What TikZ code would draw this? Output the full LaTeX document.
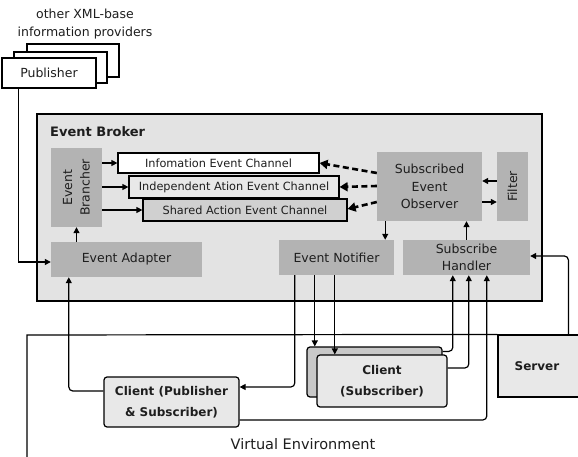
\documentclass[tikz,border=0pt]{standalone}
\usepackage{fontspec}
\setmainfont{DejaVu Sans}
\usetikzlibrary{arrows.meta}
\definecolor{brokerfill}{HTML}{E3E3E3}
\definecolor{boxgray}{HTML}{B3B3B3}
\definecolor{lightfill}{HTML}{E8E8E8}
\definecolor{midfill}{HTML}{D0D0D0}
\definecolor{backfill}{HTML}{C8C8C8}
\definecolor{txt}{HTML}{1E1E1E}
\tikzset{
  base/.style={inner sep=0pt, text=txt},
  txtn/.style={font=\fontsize{12.5}{17.5}\selectfont},
  gbox/.style={base, txtn, fill=boxgray, align=center},
  outl/.style={base, draw=black, line width=1.2pt},
  pubbox/.style={outl, fill=white, txtn},
  chan/.style={outl, font=\fontsize{11.3}{14}\selectfont},
  client/.style={outl, rounded corners=3pt, align=center, font=\bfseries\fontsize{12}{21}\selectfont},
  arr/.style={line width=1.2pt, -{Triangle[length=6pt,width=6pt]}},
  conn/.style={line width=1.2pt},
  darr/.style={line width=2.6pt, dash pattern=on 6pt off 3.5pt, -{Triangle[length=8pt,width=9pt]}},
}
\begin{document}
\begin{tikzpicture}[x=1pt,y=-1pt]
\useasboundingbox (0,0) rectangle (578,457);
% top text
\node[base, txtn, align=center] (prov) at (85,24) {other XML-base\\information providers};
% publishers
\node[pubbox, minimum width=92pt, minimum height=33pt] (pub3) at (73,60.5) {};
\node[pubbox, minimum width=93pt, minimum height=31pt] (pub2) at (60.5,67.5) {};
\node[pubbox, minimum width=94pt, minimum height=30pt] (pub1) at (49,73) {Publisher};
% broker
\node[outl, fill=brokerfill, minimum width=505pt, minimum height=187pt] (broker) at (289.5,207.5) {};
\node[base, anchor=west, font=\bfseries\fontsize{13}{15}\selectfont] (brokertitle) at (50,132) {Event Broker};
\node[gbox, minimum width=51pt, minimum height=79pt,
  label={[base, txtn, rotate=90, align=center]center:Event\\Brancher}] (brancher) at (76.5,187.5) {};
\node[chan, fill=white, minimum width=201pt, minimum height=20pt] (ch1) at (218.5,163) {Infomation Event Channel};
\node[chan, fill=lightfill, minimum width=210pt, minimum height=22pt] (ch2) at (234,187) {Independent Ation Event Channel};
\node[chan, fill=midfill, minimum width=204pt, minimum height=22pt] (ch3) at (245,210) {Shared Action Event Channel};
\node[gbox, minimum width=151pt, minimum height=35pt] (adapter) at (126.5,259.5) {Event Adapter};
\node[gbox, minimum width=105pt, minimum height=69pt] (observer) at (429.5,186.5) {Subscribed\\Event\\Observer};
\node[gbox, minimum width=31pt, minimum height=69pt,
  label={[base, txtn, rotate=90]center:Filter}] (filter) at (512.5,186.5) {};
\node[gbox, minimum width=115pt, minimum height=35pt] (notifier) at (336.5,257.5) {Event Notifier};
\node[gbox, minimum width=127pt, minimum height=35pt] (handler) at (466.5,257.5) {Subscribe\\Handler};
% virtual environment
\begin{scope}
\clip (0,0) rectangle (578,457);
\node[outl, fill=lightfill, minimum width=140pt, minimum height=62pt] (server) at (568,366) {};
\draw[conn] (27,460) -- (27,335) -- (server.north west);
\end{scope}
\node[base, font=\bfseries\fontsize{12}{14}\selectfont] (servertext) at (537,366) {Server};
\node[base, font=\fontsize{14.5}{16}\selectfont] (venv) at (303,444) {Virtual Environment};
% clients
\node[client, fill=lightfill, minimum width=135pt, minimum height=50pt] (clientps) at (171.5,402) {Client (Publisher\\\& Subscriber)};
\node[client, fill=backfill, minimum width=135pt, minimum height=50pt] (cback) at (374.5,372) {};
\node[client, fill=lightfill, minimum width=130pt, minimum height=52pt] (cfront) at (382,381) {Client\\(Subscriber)};
% connectors
\draw[arr] ([xshift=17pt]pub1.south west) |- ([yshift=-2.5pt]adapter.west);
\draw[arr] (brancher.south |- adapter.north) -- (brancher.south);
\draw[arr] (brancher.east |- ch1.west) -- (ch1.west);
\draw[arr] (brancher.east |- ch2.west) -- (ch2.west);
\draw[arr] (brancher.east |- ch3.west) -- (ch3.west);
\draw[darr] ([yshift=13.5pt]observer.west) -- (ch1.east);
\draw[darr] ([yshift=0.5pt]observer.west) -- (ch2.east);
\draw[darr] ([yshift=-15.5pt]observer.west) -- ([yshift=1pt]ch3.east);
\draw[arr] ([yshift=5.5pt]filter.west) -- ([yshift=5.5pt]observer.east);
\draw[arr] ([yshift=-15.5pt]observer.east) -- ([yshift=-15.5pt]filter.west);
\draw[arr] ([xshift=-9pt]notifier.north east |- observer.south) -- ([xshift=-9pt]notifier.north east);
\draw[arr] (handler.north) -- (handler.north |- observer.south);
\draw[arr, rounded corners=4pt] ([xshift=16pt]notifier.south west) |- ([yshift=15pt]clientps.east);
\draw[arr] ([xshift=36pt]notifier.south west) coordinate (n2) -- (n2 |- cback.north);
\draw[arr] ([xshift=56pt]notifier.south west) coordinate (n3) -- (n3 |- cfront.north);
\draw[arr, rounded corners=4pt] ([yshift=-5pt]cback.north east) -| ([xshift=50pt]handler.south west);
\draw[arr, rounded corners=4pt] ([yshift=13pt]cfront.east) -| ([xshift=66pt]handler.south west);
\draw[arr, rounded corners=4pt] ([yshift=-18pt]clientps.east) -| ([xshift=84pt]handler.south west);
\draw[arr, rounded corners=4pt] ([yshift=11pt]clientps.west) -| ([xshift=18pt]adapter.south west);
\draw[arr, rounded corners=4pt] ([xshift=71pt]server.north west) |- ([yshift=1.5pt]handler.east);
\end{tikzpicture}
\end{document}
